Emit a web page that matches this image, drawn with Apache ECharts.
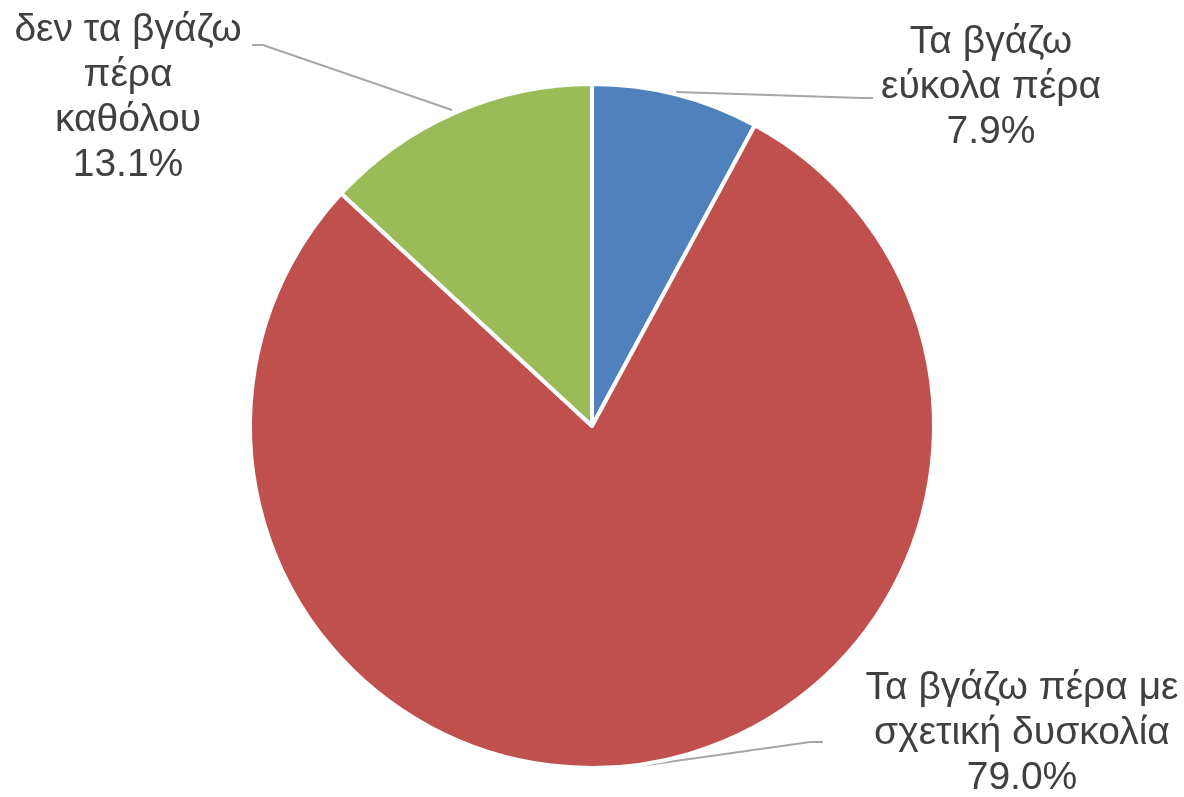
<!DOCTYPE html>
<html>
<head>
<meta charset="utf-8">
<script src="https://cdn.jsdelivr.net/npm/echarts@6/dist/echarts.min.js"></script>
<style>
  html, body { margin: 0; padding: 0; background: #fff; }
  #chart { width: 1184px; height: 797px; }
</style>
</head>
<body>
<div id="chart"></div>
<script>
var categories = ['Τα βγάζω\nεύκολα πέρα', 'Τα βγάζω πέρα με\nσχετική δυσκολία', 'δεν τα βγάζω\nπέρα\nκαθόλου'];
var values = [7.9, 79.0, 13.1];
var colors = ['#4f81bd', '#c0504d', '#9bbb59'];

// label anchor (text center) and leader line for each slice
var labelPos = [
  { x: 991, y: 87, line: [[676, 92], [862, 98], [873, 98]] },
  { x: 1022, y: 733, line: [[647, 765], [810, 742], [823, 742]] },
  { x: 128, y: 98, line: [[452, 110], [263, 45], [252, 45]] }
];

var myChart = echarts.init(document.getElementById('chart'));

var option = {
    backgroundColor: '#FFFFFF',
    animation: false,
    color: colors,
    series: [
        {
            type: 'pie',
            center: [592, 426],
            radius: [0, 342],
            startAngle: 90,
            clockwise: true,
            avoidLabelOverlap: false,
            itemStyle: {
                borderColor: '#ffffff',
                borderWidth: 4
            },
            label: {
                show: true,
                fontFamily: 'Liberation Sans, Arial, sans-serif',
                fontSize: 39,
                lineHeight: 45,
                color: '#404040',
                align: 'center',
                formatter: function (p) {
                    return p.name + '\n' + p.value.toFixed(1) + '%';
                }
            },
            labelLine: {
                show: true,
                lineStyle: { color: '#a6a6a6', width: 2 }
            },
            labelLayout: function (params) {
                var p = labelPos[params.dataIndex];
                return {
                    x: p.x,
                    y: p.y,
                    align: 'center',
                    verticalAlign: 'middle',
                    labelLinePoints: p.line
                };
            },
            data: categories.map(function (c, i) {
                return { name: c, value: values[i] };
            })
        }
    ]
};

myChart.setOption(option);
</script>
</body>
</html>
